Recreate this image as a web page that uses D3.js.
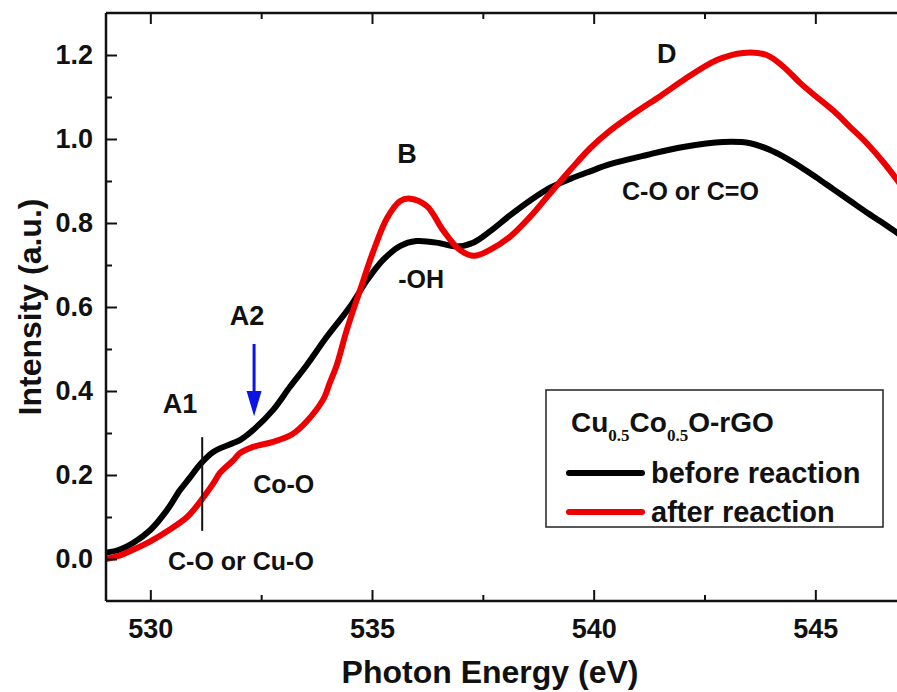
<!DOCTYPE html>
<html>
<head>
<meta charset="utf-8">
<script src="https://cdn.jsdelivr.net/npm/d3@7"></script>
<style>
  html, body { margin: 0; padding: 0; background: #fff; }
  svg { display: block; }
  text { font-family: "Liberation Sans", Arial, sans-serif; font-weight: bold; fill: #111; }
</style>
</head>
<body>
<svg id="chart" width="897" height="692"></svg>
<script>
// O K-edge spectra, Cu0.5Co0.5O-rGO
const beforeEnergy = [529.0, 529.3, 529.61, 530.0, 530.38, 530.67, 530.9, 531.12, 531.42, 531.87, 532.02, 532.32, 532.77, 533.15, 533.53, 533.98, 534.5, 534.89, 535.25, 535.63, 536.0, 536.53, 536.9, 537.28, 537.66, 538.11, 538.56, 539.02, 539.47, 539.92, 540.37, 541.2, 542.02, 542.92, 543.53, 543.98, 544.28, 544.66, 545.03, 545.41, 545.78, 546.16, 546.54, 546.84, 547.0];
const beforeIntensity = [0.015, 0.022, 0.038, 0.069, 0.117, 0.164, 0.195, 0.225, 0.255, 0.276, 0.283, 0.307, 0.355, 0.41, 0.462, 0.529, 0.60, 0.664, 0.712, 0.745, 0.757, 0.752, 0.744, 0.753, 0.78, 0.818, 0.853, 0.884, 0.905, 0.923, 0.94, 0.962, 0.981, 0.993, 0.99, 0.974, 0.958, 0.934, 0.908, 0.88, 0.853, 0.825, 0.799, 0.777, 0.765];

const afterEnergy = [529.0, 529.3, 529.61, 530.0, 530.38, 530.83, 531.12, 531.42, 531.57, 531.87, 532.02, 532.32, 532.77, 533.2, 533.53, 533.9, 534.05, 534.2, 534.43, 534.73, 535.02, 535.34, 535.63, 535.86, 536.24, 536.6, 536.98, 537.3, 537.66, 538.11, 538.56, 539.02, 539.47, 539.92, 540.37, 540.98, 541.5, 542.02, 542.78, 543.37, 543.9, 544.28, 544.66, 545.03, 545.41, 545.78, 546.16, 546.54, 546.84, 547.0];
const afterIntensity = [0.0, 0.008, 0.022, 0.042, 0.066, 0.10, 0.136, 0.18, 0.205, 0.235, 0.252, 0.267, 0.279, 0.297, 0.328, 0.38, 0.42, 0.46, 0.545, 0.64, 0.73, 0.812, 0.852, 0.858, 0.84, 0.783, 0.736, 0.722, 0.736, 0.767, 0.814, 0.871, 0.926, 0.978, 1.02, 1.066, 1.102, 1.14, 1.188, 1.205, 1.2, 1.172, 1.133, 1.1, 1.067, 1.029, 0.99, 0.944, 0.903, 0.88];

const xMajorTicks = [530, 535, 540, 545];
const xMinorTicks = [532.5, 537.5, 542.5];
const yMajorTicks = [0.0, 0.2, 0.4, 0.6, 0.8, 1.0, 1.2];
const yMinorTicks = [0.1, 0.3, 0.5, 0.7, 0.9, 1.1];

const seriesNames = ["before reaction", "after reaction"];
const seriesColors = ["#000000", "#ee0000"];

// peak / feature labels, placed in data coordinates
const labelText = ["A1", "A2", "Co-O", "C-O or Cu-O", "B", "-OH", "D", "C-O or C=O"];
const labelX = [530.67, 532.18, 532.32, 530.4, 535.79, 535.59, 541.65, 540.64];
const labelY = [0.348, 0.557, 0.157, -0.026, 0.943, 0.645, 1.181, 0.855];
const labelAnchor = ["middle", "middle", "start", "start", "middle", "start", "middle", "start"];

const svg = d3.select("#chart");
const margin = { left: 106, top: 13 };
const plotW = 798, plotH = 588;

const x = d3.scaleLinear().domain([529, 547]).range([0, plotW]);
const y = d3.scaleLinear().domain([-0.1, 1.3]).range([plotH, 0]);

const g = svg.append("g").attr("transform", `translate(${margin.left},${margin.top})`);

g.append("clipPath").attr("id", "plotClip")
  .append("rect").attr("width", plotW).attr("height", plotH);

// curves
const line = d3.line().x(d => x(d[0])).y(d => y(d[1])).curve(d3.curveCatmullRom.alpha(0.5));
const seriesData = [
  d3.zip(beforeEnergy, beforeIntensity),
  d3.zip(afterEnergy, afterIntensity)
];
const curves = g.append("g").attr("clip-path", "url(#plotClip)");
// "before" first, then "after" on top
seriesData.forEach((data, i) => {
  curves.append("path")
    .datum(data)
    .attr("d", line)
    .attr("fill", "none")
    .attr("stroke", seriesColors[i])
    .attr("stroke-width", 6)
    .attr("stroke-linejoin", "round")
    .attr("stroke-linecap", "round");
});

// axes (ticks pointing inward)
function styleAxis(sel) {
  sel.select(".domain").remove();
  sel.selectAll(".tick line").attr("stroke", "#111").attr("stroke-width", 2);
  sel.selectAll(".tick text").attr("font-size", 27).attr("fill", "#111")
    .attr("font-family", '"Liberation Sans", Arial, sans-serif').attr("font-weight", "bold");
}

g.append("g").attr("transform", `translate(0,${plotH})`)
  .call(d3.axisBottom(x).tickValues(xMajorTicks).tickFormat(d3.format("d"))
    .tickSizeInner(-11).tickSizeOuter(0).tickPadding(18))
  .call(styleAxis);
g.append("g").attr("transform", `translate(0,${plotH})`)
  .call(d3.axisBottom(x).tickValues(xMinorTicks).tickFormat("").tickSizeInner(-6).tickSizeOuter(0))
  .call(styleAxis);
g.append("g")
  .call(d3.axisTop(x).tickValues(xMajorTicks).tickFormat("").tickSizeInner(-11).tickSizeOuter(0))
  .call(styleAxis);
g.append("g")
  .call(d3.axisTop(x).tickValues(xMinorTicks).tickFormat("").tickSizeInner(-6).tickSizeOuter(0))
  .call(styleAxis);
g.append("g")
  .call(d3.axisLeft(y).tickValues(yMajorTicks).tickFormat(d3.format(".1f"))
    .tickSizeInner(-11).tickSizeOuter(0).tickPadding(13))
  .call(styleAxis);
g.append("g")
  .call(d3.axisLeft(y).tickValues(yMinorTicks).tickFormat("").tickSizeInner(-6).tickSizeOuter(0))
  .call(styleAxis);

// frame
const frame = g.append("g").attr("stroke", "#111").attr("stroke-width", 2.5);
frame.append("line").attr("x1", 0).attr("x2", 0).attr("y1", 0).attr("y2", plotH);
frame.append("line").attr("x1", 0).attr("x2", plotW).attr("y1", plotH).attr("y2", plotH);
frame.append("line").attr("x1", 0).attr("x2", plotW).attr("y1", 0).attr("y2", 0);
frame.append("line").attr("x1", plotW).attr("x2", plotW).attr("y1", 0).attr("y2", plotH);

// axis titles
svg.append("text")
  .attr("x", 490).attr("y", 683)
  .attr("text-anchor", "middle").attr("font-size", 32)
  .text("Photon Energy (eV)");
svg.append("text")
  .attr("transform", `translate(41,${margin.top + plotH / 2}) rotate(-90)`)
  .attr("text-anchor", "middle").attr("font-size", 32)
  .text("Intensity (a.u.)");

// A1 marker line
g.append("line")
  .attr("x1", x(531.17)).attr("x2", x(531.17))
  .attr("y1", y(0.29)).attr("y2", y(0.067))
  .attr("stroke", "#111").attr("stroke-width", 2);

// A2 arrow
const ax = x(532.34);
g.append("line")
  .attr("x1", ax).attr("x2", ax)
  .attr("y1", y(0.512)).attr("y2", y(0.39))
  .attr("stroke", "#0a14e6").attr("stroke-width", 3);
g.append("path")
  .attr("d", `M${ax - 7.5},${y(0.40)} L${ax + 7.5},${y(0.40)} L${ax},${y(0.34)} Z`)
  .attr("fill", "#0a14e6");

// feature labels
labelText.forEach((t, i) => {
  g.append("text")
    .attr("x", x(labelX[i])).attr("y", y(labelY[i]))
    .attr("text-anchor", labelAnchor[i])
    .attr("font-size", (t.length <= 2) ? 27 : 25)
    .text(t);
});

// legend
const lg = svg.append("g");
lg.append("rect")
  .attr("x", 546).attr("y", 390).attr("width", 337).attr("height", 137)
  .attr("fill", "#fff").attr("stroke", "#222").attr("stroke-width", 1.5);

const title = lg.append("text").attr("x", 571).attr("y", 432).attr("font-size", 28);
title.append("tspan").text("Cu");
title.append("tspan").attr("dy", 9).attr("font-size", 17)
  .attr("font-family", '"Liberation Serif", "Times New Roman", serif').text("0.5");
title.append("tspan").attr("dy", -9).text("Co");
title.append("tspan").attr("dy", 9).attr("font-size", 17)
  .attr("font-family", '"Liberation Serif", "Times New Roman", serif').text("0.5");
title.append("tspan").attr("dy", -9).text("O-rGO");

const rowY = [473, 512];
seriesNames.forEach((name, i) => {
  lg.append("line")
    .attr("x1", 569).attr("x2", 642)
    .attr("y1", rowY[i]).attr("y2", rowY[i])
    .attr("stroke", seriesColors[i]).attr("stroke-width", 6)
    .attr("stroke-linecap", "round");
  lg.append("text")
    .attr("x", 651).attr("y", rowY[i] + 9.5)
    .attr("font-size", 29)
    .text(name);
});
</script>
</body>
</html>
